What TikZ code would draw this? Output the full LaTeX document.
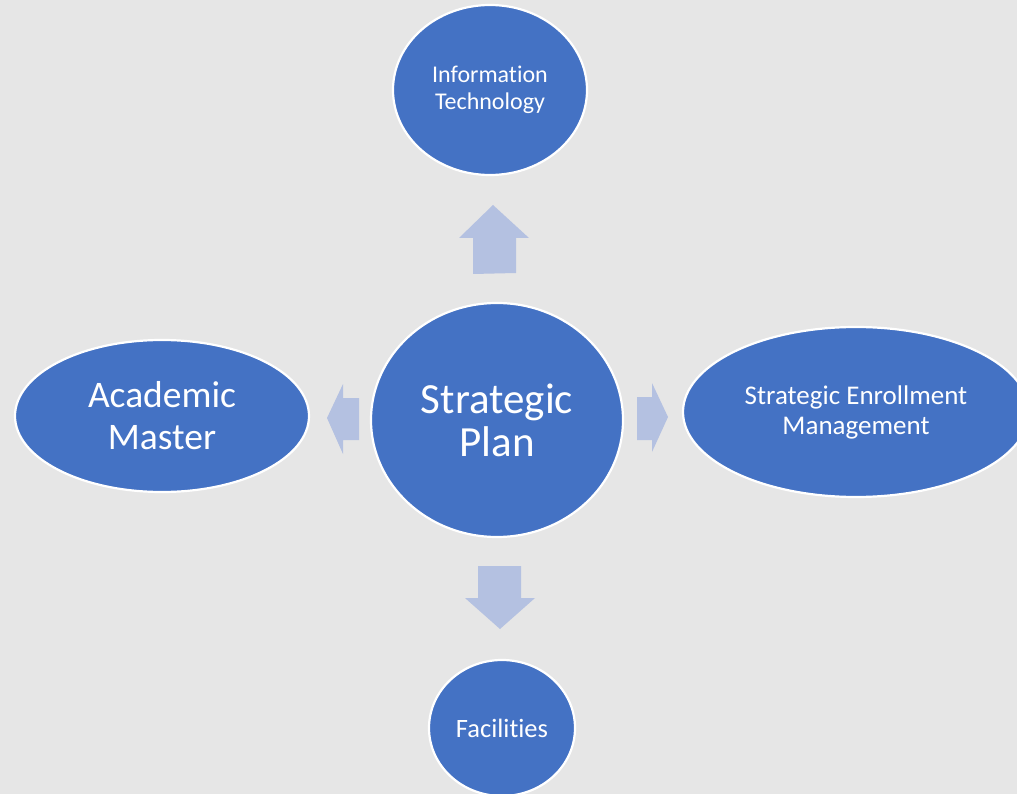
\documentclass[tikz,border=0pt]{standalone}
\usepackage{fontspec}
\setmainfont{Carlito}[Ligatures={NoCommon}]
\usetikzlibrary{shapes.geometric}
\definecolor{bgray}{HTML}{E6E6E6}
\definecolor{nodeblue}{HTML}{4472C4}
\definecolor{arrowblue}{HTML}{B4C1E1}
\tikzset{
  bubble/.style={ellipse, fill=nodeblue, draw=white, line width=2.2pt, text=white,
    inner sep=0pt, align=center},
  blockarrow/.style={fill=arrowblue, draw=none},
}
\begin{document}
\begin{tikzpicture}[x=1pt,y=-1pt]
  % canvas
  \fill[bgray] (0,0) rectangle (1017,794);
  \useasboundingbox (0,0) rectangle (1017,794);

  % hub and satellites
  \node[bubble, minimum width=252pt, minimum height=234pt, font=\fontsize{43}{43}\selectfont]
    (plan) at (497,420) {Strategic\\Plan};
  \node[bubble, minimum width=194pt, minimum height=170pt, font=\fontsize{24}{27}\selectfont]
    (it) at (490,90) {Information\\Technology};
  \node[bubble, minimum width=294pt, minimum height=152pt, font=\fontsize{37.5}{42}\selectfont]
    (acad) at (162,416) {Academic\\Master};
  \node[bubble, minimum width=346pt, minimum height=170pt, font=\fontsize{27}{30}\selectfont]
    (sem) at (856,412) {Strategic Enrollment\\Management};
  \node[bubble, minimum width=146pt, minimum height=136pt, font=\fontsize{26.5}{29}\selectfont]
    (fac) at (502,728) {Facilities};

  % block arrows from the hub outward
  \fill[blockarrow] (473,274) -- (473,238) -- (459,238) -- (493,205) -- (529,238)
    -- (516,238) -- (516,273) -- cycle;
  \fill[blockarrow] (359,398) -- (343,398) -- (343,384) -- (327,418) -- (343,454)
    -- (343,440) -- (359,440) -- cycle;
  \fill[blockarrow] (637,397) -- (652,397) -- (652,383) -- (668,417) -- (652,452)
    -- (652,440) -- (637,440) -- cycle;
  \fill[blockarrow] (478,566) -- (521,566) -- (521,598) -- (535,598) -- (500,629)
    -- (465,598) -- (478,598) -- cycle;
\end{tikzpicture}
\end{document}
